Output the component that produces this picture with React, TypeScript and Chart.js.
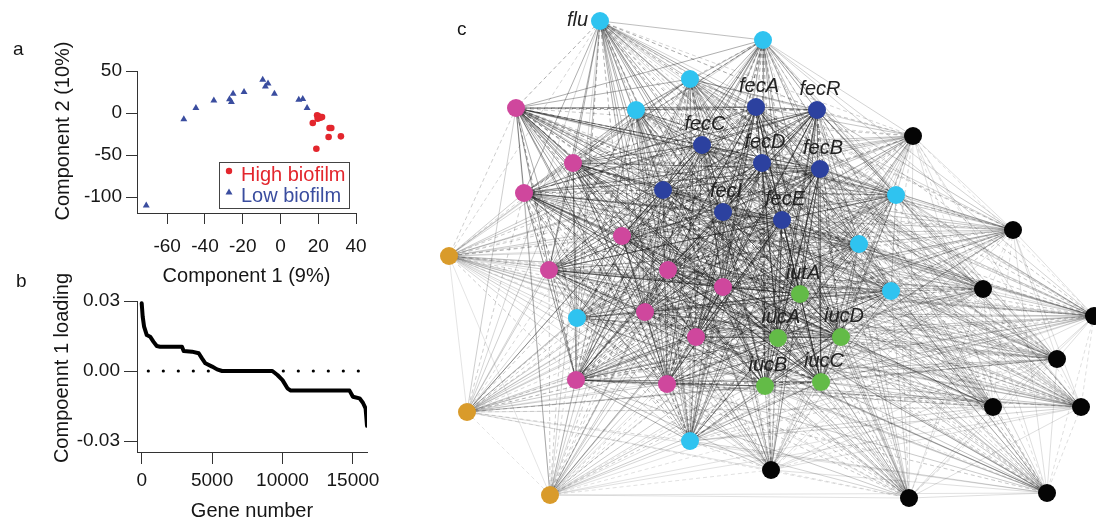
import React, { useEffect, useRef } from 'react';
import { Chart, registerables } from 'chart.js';
Chart.register(...registerables);

const FONT = "'Liberation Sans', Arial, Helvetica, sans-serif";
Chart.defaults.font.family = FONT;

// ---------- Panel a: PCA scatter ----------
const highX = [17.1, 19.4, 20.2, 21.1, 22.0, 19.7, 26.0, 26.9, 25.5, 32.0, 19.0];
const highY = [-11.9, -2.8, -4.0, -5.6, -4.8, -6.7, -17.9, -17.9, -28.6, -27.8, -42.5];
const lowX = [-71.1, -51.2, -44.8, -35.3, -27.0, -26.0, -25.1, -19.3, -9.4, -8.0, -6.6, -3.2, 9.7, 11.8, 14.1];
const lowY = [-110, -7.5, 6, 15, 16.3, 13, 23, 25, 39.7, 31.7, 35, 23, 15.9, 16.7, 6];
const aXTicks = [-60, -40, -20, 0, 20, 40];
const aYTicks = [-100, -50, 0, 50];
const aLegend = ['High biofilm', 'Low biofilm'];

// ---------- Panel b: loading curve ----------
const geneNumber = [0, 70, 170, 360, 600, 830, 1070, 1300, 2860, 2980, 3570, 4050, 4280, 4520, 5000, 5350, 5710, 9280, 9640, 10000, 10350, 10590, 14760, 15000, 15470, 15710, 15900, 15950, 16000];
const loading = [0.029, 0.0233, 0.019, 0.0154, 0.0147, 0.0126, 0.0107, 0.0104, 0.0104, 0.0086, 0.0083, 0.0076, 0.0054, 0.0033, 0.0019, 0.0007, 0, 0, -0.0017, -0.0039, -0.0074, -0.0084, -0.0084, -0.011, -0.0117, -0.0136, -0.016, -0.0196, -0.0235];
const zeroLineX = [470, 15650];
const bXTicks = [0, 5000, 10000, 15000];
const bYTicks = [-0.03, 0, 0.03];

// ---------- Panel c: network ----------
const nodeX = [600, 763, 690, 636, 896, 859, 891, 577, 690,
  516, 573, 524, 622, 549, 668, 723, 645, 696, 576, 667,
  756, 817, 702, 762, 820, 663, 723, 782,
  800, 778, 841, 765, 821,
  449, 467, 550,
  913, 1013, 983, 1094, 1057, 993, 1081, 771, 909, 1047];
const nodeY = [21, 40, 79, 110, 195, 244, 291, 318, 441,
  108, 163, 193, 236, 270, 270, 287, 312, 337, 380, 384,
  107, 110, 145, 163, 169, 190, 212, 220,
  294, 338, 337, 386, 382,
  256, 412, 495,
  136, 230, 289, 316, 359, 407, 407, 470, 498, 493];
const nodeGroup = ['cyan', 'cyan', 'cyan', 'cyan', 'cyan', 'cyan', 'cyan', 'cyan', 'cyan',
  'magenta', 'magenta', 'magenta', 'magenta', 'magenta', 'magenta', 'magenta', 'magenta', 'magenta', 'magenta', 'magenta',
  'blue', 'blue', 'blue', 'blue', 'blue', 'blue', 'blue', 'blue',
  'green', 'green', 'green', 'green', 'green',
  'orange', 'orange', 'orange',
  'black', 'black', 'black', 'black', 'black', 'black', 'black', 'black', 'black', 'black'];
const nodeLabel = ['flu', '', '', '', '', '', '', '', '',
  '', '', '', '', '', '', '', '', '', '', '',
  'fecA', 'fecR', 'fecC', 'fecD', 'fecB', '', 'fecI', 'fecE',
  'iutA', 'iucA', 'iucD', 'iucB', 'iucC',
  '', '', '',
  '', '', '', '', '', '', '', '', '', ''];
const groups = ['cyan', 'magenta', 'blue', 'green', 'orange', 'black'];

// styles
const groupColor: Record<string, string> = {
  cyan: '#2fc3f0', magenta: '#cf479d', blue: '#2c419f', green: '#63bb47', orange: '#d99b2b', black: '#050505',
};
const groupWeight: Record<string, number> = {
  cyan: 0.78, magenta: 0.94, blue: 1, green: 1, orange: 0.5, black: 0.55,
};
const TXT = '#161616';
const AX = '#333';

const sideTitle = (text: string, x: number, y: number) => ({
  id: 'sideTitle',
  afterDraw(chart: any) {
    const ctx = chart.ctx;
    ctx.save();
    ctx.translate(x, y);
    ctx.rotate(-Math.PI / 2);
    ctx.font = `20px ${FONT}`;
    ctx.fillStyle = TXT;
    ctx.textAlign = 'center';
    ctx.textBaseline = 'middle';
    ctx.fillText(text, 0, 0);
    ctx.restore();
  },
});

const boxLegend = {
  id: 'boxLegend',
  afterDraw(chart: any) {
    const { ctx, chartArea } = chart;
    const bx = chartArea.right - 137;
    const by = chartArea.bottom - 51;
    ctx.save();
    ctx.strokeStyle = '#444';
    ctx.lineWidth = 1;
    ctx.strokeRect(Math.round(bx) + 0.5, Math.round(by) + 0.5, 130, 46);
    chart.data.datasets.forEach((ds: any, i: number) => {
      const my = by + 9 + i * 21;
      const mx = bx + 10;
      ctx.fillStyle = ds.backgroundColor;
      ctx.beginPath();
      if (ds.pointStyle === 'triangle') {
        ctx.moveTo(mx, my - 3.5);
        ctx.lineTo(mx + 3.5, my + 2.5);
        ctx.lineTo(mx - 3.5, my + 2.5);
        ctx.closePath();
      } else {
        ctx.arc(mx, my, 3.2, 0, Math.PI * 2);
      }
      ctx.fill();
      ctx.font = `20px ${FONT}`;
      ctx.textAlign = 'left';
      ctx.textBaseline = 'middle';
      ctx.fillText(aLegend[i], bx + 22, by + 13 + i * 21);
    });
    ctx.restore();
  },
};

const edgePlugin = {
  id: 'edges',
  beforeDatasetsDraw(chart: any) {
    const { ctx } = chart;
    const sx = chart.scales.x;
    const sy = chart.scales.y;
    ctx.save();
    for (let i = 0; i < nodeX.length; i++) {
      for (let j = i + 1; j < nodeX.length; j++) {
        const w = groupWeight[nodeGroup[i]] * groupWeight[nodeGroup[j]];
        ctx.strokeStyle = `rgba(25,25,25,${0.08 + 0.45 * w})`;
        ctx.lineWidth = 0.5 + 0.5 * w;
        ctx.setLineDash((i * 7 + j) % 3 === 0 ? [4, 3] : []);
        ctx.beginPath();
        ctx.moveTo(sx.getPixelForValue(nodeX[i]), sy.getPixelForValue(nodeY[i]));
        ctx.lineTo(sx.getPixelForValue(nodeX[j]), sy.getPixelForValue(nodeY[j]));
        ctx.stroke();
      }
    }
    ctx.restore();
  },
};

const labelPlugin = {
  id: 'nodeLabels',
  afterDatasetsDraw(chart: any) {
    const { ctx } = chart;
    const sx = chart.scales.x;
    const sy = chart.scales.y;
    ctx.save();
    ctx.font = `italic 20px ${FONT}`;
    ctx.fillStyle = '#222';
    ctx.textBaseline = 'middle';
    nodeLabel.forEach((lab, i) => {
      if (!lab) return;
      const px = sx.getPixelForValue(nodeX[i]);
      const py = sy.getPixelForValue(nodeY[i]);
      if (lab === 'flu') {
        ctx.textAlign = 'right';
        ctx.fillText(lab, px - 12, py - 1);
      } else {
        ctx.textAlign = 'center';
        ctx.fillText(lab, px + 3, py - 21);
      }
    });
    ctx.restore();
  },
};

function axisX(min: number, max: number, ticks: number[], height: number, tl: number, pad: number, title: string) {
  return {
    type: 'linear', min, max,
    afterBuildTicks: (s: any) => { s.ticks = ticks.map((v) => ({ value: v })); },
    afterFit: (s: any) => { s.height = height; s.paddingLeft = 0; s.paddingRight = 0; },
    grid: { display: true, drawOnChartArea: false, drawTicks: true, tickLength: tl, tickColor: AX, tickWidth: 1 },
    border: { display: true, color: AX, width: 1 },
    ticks: { color: TXT, font: { size: 19 }, padding: pad, maxRotation: 0, autoSkip: false, callback: (v: any) => String(v) },
    title: { display: true, text: title, color: TXT, font: { size: 20 }, padding: 0 },
  };
}
function axisY(min: number, max: number, ticks: number[], width: number, tl: number, pad: number, fmt?: (v: number) => string) {
  const f = fmt || ((v: number) => String(v));
  return {
    type: 'linear', min, max,
    afterBuildTicks: (s: any) => { s.ticks = ticks.map((v) => ({ value: v })); },
    afterFit: (s: any) => { s.width = width; },
    grid: { display: true, drawOnChartArea: false, drawTicks: true, tickLength: tl, tickColor: AX, tickWidth: 1 },
    border: { display: true, color: AX, width: 1 },
    ticks: { color: TXT, font: { size: 19 }, padding: pad, autoSkip: false, callback: (v: any) => f(Number(v)) },
  };
}

export default function App() {
  const aRef = useRef<HTMLCanvasElement>(null);
  const bRef = useRef<HTMLCanvasElement>(null);
  const cRef = useRef<HTMLCanvasElement>(null);

  useEffect(() => {
    const charts: Chart[] = [];
    const common = {
      animation: false, responsive: false, events: [],
      plugins: { legend: { display: false }, tooltip: { enabled: false } },
    };

    charts.push(new Chart(aRef.current as HTMLCanvasElement, {
      type: 'scatter',
      data: {
        datasets: [
          { label: aLegend[0], data: highX.map((x, i) => ({ x, y: highY[i] })), pointStyle: 'circle', pointRadius: 3.3, backgroundColor: '#e3262d', borderWidth: 0 },
          { label: aLegend[1], data: lowX.map((x, i) => ({ x, y: lowY[i] })), pointStyle: 'triangle', pointRadius: 4, backgroundColor: '#3a4d9f', borderWidth: 0 },
        ],
      },
      options: {
        ...common,
        layout: { padding: { left: 51, top: 41, right: 64, bottom: 2 }, autoPadding: false },
        scales: {
          x: axisX(-76, 40, aXTicks, 75, 11, 11, 'Component 1 (9%)'),
          y: axisY(-119, 50, aYTicks, 86, 11, 4),
        },
      } as any,
      plugins: [sideTitle('Component 2 (10%)', 63, 101), boxLegend],
    } as any));

    charts.push(new Chart(bRef.current as HTMLCanvasElement, {
      type: 'line',
      data: {
        datasets: [
          { label: 'loading', data: geneNumber.map((x, i) => ({ x, y: loading[i] })), borderColor: '#000', borderWidth: 4, pointRadius: 0, tension: 0, borderJoinStyle: 'round', borderCapStyle: 'round', fill: false },
          { label: 'zero', data: zeroLineX.map((x) => ({ x, y: 0 })), borderColor: '#000', borderWidth: 3.2, pointRadius: 0, borderDash: [0, 15], borderCapStyle: 'round', fill: false },
        ],
      },
      options: {
        ...common,
        layout: { padding: { left: 50, top: 41, right: 53, bottom: 4 }, autoPadding: false },
        scales: {
          x: axisX(-334, 16000, bXTicks, 71, 12, 5, 'Gene number'),
          y: axisY(-0.0347, 0.03, bYTicks, 87, 13, 4, (v) => v.toFixed(2)),
        },
      } as any,
      plugins: [sideTitle('Compoennt 1 loading', 62, 108)],
    } as any));

    charts.push(new Chart(cRef.current as HTMLCanvasElement, {
      type: 'scatter',
      data: {
        datasets: groups.map((g) => ({
          label: g,
          data: nodeX.map((x, i) => ({ x, y: nodeY[i], g: nodeGroup[i] })).filter((p) => p.g === g),
          pointStyle: 'circle', pointRadius: 9, pointHoverRadius: 9,
          backgroundColor: groupColor[g], borderWidth: 0, clip: false,
        })),
      },
      options: {
        ...common,
        layout: { padding: 0, autoPadding: false },
        scales: {
          x: { type: 'linear', display: false, min: 430, max: 1096 },
          y: { type: 'linear', display: false, min: 0, max: 527, reverse: true },
        },
      } as any,
      plugins: [edgePlugin, labelPlugin],
    } as any));

    return () => charts.forEach((c) => c.destroy());
  }, []);

  const letter = (t: string, left: number, top: number) => (
    <div style={{ position: 'absolute', left, top, fontSize: 19, lineHeight: '19px', color: TXT, fontFamily: FONT }}>{t}</div>
  );

  return (
    <div style={{ position: 'absolute', left: 0, top: 0, width: 1096, height: 527, background: '#fff', overflow: 'hidden' }}>
      <canvas ref={aRef} width={420} height={260} style={{ position: 'absolute', left: 0, top: 30 }} />
      <canvas ref={bRef} width={420} height={267} style={{ position: 'absolute', left: 0, top: 260 }} />
      <canvas ref={cRef} width={666} height={527} style={{ position: 'absolute', left: 430, top: 0 }} />
      {letter('a', 13, 39)}
      {letter('b', 16, 271)}
      {letter('c', 457, 19)}
    </div>
  );
}
